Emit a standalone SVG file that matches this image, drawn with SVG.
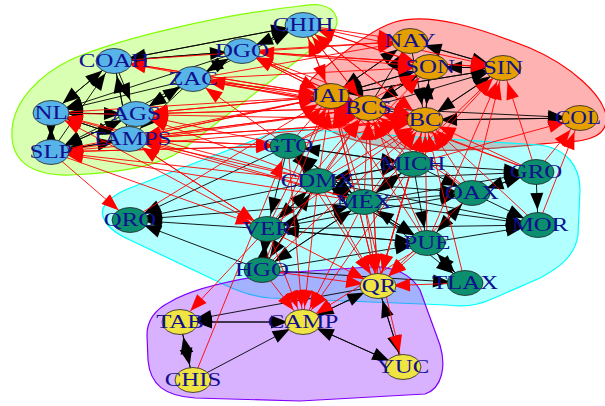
<svg xmlns="http://www.w3.org/2000/svg" width="605" height="406" viewBox="0 0 605 406">
<style>
.hull{stroke-width:1.2}
.eb path{stroke:#000;stroke-width:0.9;fill:none}
.er path{stroke:#f00;stroke-width:0.9;fill:none}
.node ellipse{stroke:#222;stroke-width:0.8}
.bl ellipse{fill:#56B4E9}
.or ellipse{fill:#E69F00}
.gr ellipse{fill:#0B8F6E}
.ye ellipse{fill:#F0E442}
.node text{font-family:"Liberation Serif","Times New Roman",serif;font-size:18px;fill:#10108C;text-anchor:middle}
</style>
<defs>
<marker id="ab" markerUnits="userSpaceOnUse" markerWidth="17" markerHeight="13" refX="32" refY="6.5" orient="auto" overflow="visible"><path d="M0,0 L17,6.5 L0,13 Z" fill="#000"/></marker>
<marker id="ar" markerUnits="userSpaceOnUse" markerWidth="17" markerHeight="13" refX="32" refY="6.5" orient="auto" overflow="visible"><path d="M0,0 L17,6.5 L0,13 Z" fill="#f00"/></marker>
</defs>
<rect width="605" height="406" fill="#fff"/>
<g id="groups">
<path class="hull" fill="#80FF00" fill-opacity="0.3" stroke="#80FF00" d="M320,5 C338,8 342,24 330,35 L182,150 C162,165 120,173 70,175 C30,176 10,160 12,130 C14,100 40,75 70,60 C120,38 220,15 300,6 C308,5 315,4 320,5 Z"/>
<path class="hull" fill="#FF0000" fill-opacity="0.3" stroke="#FF0000" d="M395,22 C430,12 480,28 530,48 C572,66 602,95 606,115 C609,135 590,142 562,142 C520,146 470,152 420,150 C370,148 330,136 310,117 C295,102 303,82 328,65 C352,46 375,28 395,22 Z"/>
<path class="hull" fill="#00FFFF" fill-opacity="0.3" stroke="#00FFFF" d="M103,216 C100,208 108,198 125,190 L270,134 C280,130 295,128 310,130 L540,145 C565,148 580,165 580,190 L578,235 C575,258 555,270 540,278 L492,299 C477,306 462,307 447,305 L270,298 C255,297 240,292 225,285 L130,240 C112,232 105,224 103,216 Z"/>
<path class="hull" fill="#8000FF" fill-opacity="0.3" stroke="#8000FF" d="M170,302 C190,290 230,280 280,273 L370,267 C395,266 412,275 420,290 L440,345 C446,365 443,388 425,394 L300,401 L195,398 C165,396 150,385 148,360 L147,335 C147,318 158,308 170,302 Z"/>
</g>
<g id="connectors">
<g class="eb" marker-end="url(#ab)">
<path d="M114 61L242 51"/><path d="M242 51L114 61"/><path d="M242 51L303 25"/><path d="M303 25L242 51"/><path d="M114 61L303 25"/><path d="M193 79L242 51"/><path d="M242 51L193 79"/><path d="M193 79L303 25"/><path d="M114 61L51 113"/><path d="M51 113L114 61"/><path d="M114 61L136 114"/><path d="M193 79L136 114"/><path d="M136 114L193 79"/><path d="M193 79L51 113"/><path d="M193 79L51 152"/><path d="M193 79L129 139"/><path d="M242 51L136 114"/><path d="M51 113L51 152"/><path d="M51 152L51 113"/><path d="M51 113L136 114"/><path d="M136 114L51 113"/><path d="M51 113L129 139"/><path d="M129 139L51 113"/><path d="M51 152L129 139"/><path d="M129 139L51 152"/><path d="M51 152L136 114"/><path d="M136 114L51 152"/><path d="M136 114L129 139"/><path d="M129 139L136 114"/><path d="M114 61L129 139"/><path d="M242 51L51 113"/><path d="M303 25L114 61"/><path d="M51 152L114 61"/><path d="M129 139L114 61"/>
<path d="M410 41L503 68"/><path d="M503 68L410 41"/><path d="M430 67L503 68"/><path d="M503 68L430 67"/><path d="M331 96L410 41"/><path d="M410 41L331 96"/><path d="M331 96L430 67"/><path d="M430 67L331 96"/><path d="M368 108L430 67"/><path d="M430 67L368 108"/><path d="M368 108L503 68"/><path d="M425 120L503 68"/><path d="M503 68L425 120"/><path d="M425 120L580 118"/><path d="M580 118L425 120"/><path d="M430 67L425 120"/><path d="M425 120L430 67"/><path d="M331 96L425 120"/><path d="M368 108L580 118"/><path d="M410 41L425 120"/><path d="M331 96L503 68"/><path d="M368 108L410 41"/><path d="M503 68L331 96"/>
<path d="M288 146L318 181"/><path d="M318 181L288 146"/><path d="M288 146L413 164"/><path d="M413 164L288 146"/><path d="M288 146L364 202"/><path d="M288 146L130 220"/><path d="M318 181L130 220"/><path d="M364 202L130 220"/><path d="M262 270L130 220"/><path d="M267 229L130 220"/><path d="M318 181L364 202"/><path d="M364 202L318 181"/><path d="M318 181L267 229"/><path d="M267 229L318 181"/><path d="M364 202L267 229"/><path d="M267 229L364 202"/><path d="M318 181L262 270"/><path d="M262 270L318 181"/><path d="M364 202L262 270"/><path d="M262 270L364 202"/><path d="M267 229L262 270"/><path d="M262 270L267 229"/><path d="M318 181L413 164"/><path d="M413 164L318 181"/><path d="M364 202L413 164"/><path d="M413 164L364 202"/><path d="M318 181L427 243"/><path d="M364 202L427 243"/><path d="M427 243L364 202"/><path d="M267 229L427 243"/><path d="M427 243L267 229"/><path d="M413 164L472 193"/><path d="M318 181L472 193"/><path d="M364 202L472 193"/><path d="M472 193L427 243"/><path d="M427 243L472 193"/><path d="M472 193L536 172"/><path d="M536 172L472 193"/><path d="M413 164L536 172"/><path d="M318 181L536 172"/><path d="M364 202L536 172"/><path d="M536 172L538 225"/><path d="M364 202L538 225"/><path d="M318 181L538 225"/><path d="M427 243L538 225"/><path d="M472 193L538 225"/><path d="M427 243L465 283"/><path d="M465 283L427 243"/><path d="M364 202L465 283"/><path d="M262 270L465 283"/><path d="M267 229L472 193"/><path d="M288 146L267 229"/><path d="M413 164L427 243"/><path d="M262 270L427 243"/><path d="M427 243L318 181"/><path d="M364 202L288 146"/><path d="M267 229L538 225"/>
<path d="M180 322L303 322"/><path d="M303 322L180 322"/><path d="M193 380L180 322"/><path d="M180 322L193 380"/><path d="M193 380L303 322"/><path d="M378 286L303 322"/><path d="M303 322L378 286"/><path d="M378 286L403 367"/><path d="M403 367L378 286"/><path d="M303 322L403 367"/><path d="M403 367L303 322"/><path d="M378 286L180 322"/>
</g>
<g class="er" marker-end="url(#ar)">
<path d="M288 146L331 96"/><path d="M318 181L331 96"/><path d="M364 202L331 96"/><path d="M413 164L331 96"/><path d="M267 229L331 96"/><path d="M262 270L331 96"/><path d="M130 220L331 96"/><path d="M136 114L331 96"/><path d="M193 79L331 96"/><path d="M129 139L331 96"/><path d="M51 152L331 96"/><path d="M51 113L331 96"/><path d="M114 61L331 96"/><path d="M242 51L331 96"/><path d="M303 25L331 96"/><path d="M472 193L331 96"/><path d="M427 243L331 96"/><path d="M378 286L331 96"/><path d="M536 172L331 96"/>
<path d="M288 146L368 108"/><path d="M318 181L368 108"/><path d="M364 202L368 108"/><path d="M413 164L368 108"/><path d="M472 193L368 108"/><path d="M427 243L368 108"/><path d="M267 229L368 108"/><path d="M262 270L368 108"/><path d="M136 114L368 108"/><path d="M129 139L368 108"/><path d="M193 79L368 108"/><path d="M242 51L368 108"/><path d="M303 25L368 108"/><path d="M378 286L368 108"/><path d="M536 172L368 108"/><path d="M51 152L368 108"/>
<path d="M288 146L425 120"/><path d="M318 181L425 120"/><path d="M364 202L425 120"/><path d="M413 164L425 120"/><path d="M472 193L425 120"/><path d="M536 172L425 120"/><path d="M427 243L425 120"/><path d="M267 229L425 120"/><path d="M262 270L425 120"/><path d="M193 79L425 120"/><path d="M242 51L425 120"/><path d="M303 25L425 120"/><path d="M51 152L425 120"/><path d="M129 139L425 120"/><path d="M538 225L425 120"/><path d="M378 286L425 120"/><path d="M465 283L425 120"/><path d="M51 113L425 120"/>
<path d="M303 25L430 67"/><path d="M242 51L430 67"/><path d="M193 79L430 67"/><path d="M318 181L430 67"/><path d="M288 146L430 67"/>
<path d="M303 25L410 41"/><path d="M242 51L410 41"/><path d="M193 79L410 41"/><path d="M114 61L410 41"/>
<path d="M303 25L503 68"/><path d="M242 51L503 68"/><path d="M413 164L503 68"/><path d="M472 193L503 68"/><path d="M536 172L503 68"/><path d="M427 243L503 68"/><path d="M364 202L503 68"/>
<path d="M413 164L580 118"/><path d="M536 172L580 118"/><path d="M538 225L580 118"/>
<path d="M331 96L303 25"/><path d="M368 108L303 25"/><path d="M430 67L303 25"/><path d="M425 120L303 25"/>
<path d="M331 96L242 51"/><path d="M368 108L242 51"/><path d="M503 68L242 51"/>
<path d="M331 96L193 79"/><path d="M288 146L193 79"/><path d="M368 108L193 79"/>
<path d="M331 96L136 114"/><path d="M288 146L136 114"/><path d="M318 181L136 114"/><path d="M368 108L136 114"/>
<path d="M288 146L129 139"/><path d="M318 181L129 139"/><path d="M364 202L129 139"/><path d="M267 229L129 139"/><path d="M368 108L129 139"/><path d="M425 120L129 139"/><path d="M331 96L129 139"/>
<path d="M288 146L51 152"/><path d="M318 181L51 152"/><path d="M364 202L51 152"/>
<path d="M318 181L51 113"/><path d="M364 202L51 113"/><path d="M267 229L51 113"/>
<path d="M331 96L114 61"/><path d="M368 108L114 61"/>
<path d="M51 152L130 220"/>
<path d="M51 152L267 229"/><path d="M129 139L267 229"/>
<path d="M288 146L303 322"/><path d="M318 181L303 322"/><path d="M364 202L303 322"/><path d="M267 229L303 322"/><path d="M262 270L303 322"/><path d="M427 243L303 322"/><path d="M413 164L303 322"/>
<path d="M318 181L378 286"/><path d="M364 202L378 286"/><path d="M413 164L378 286"/><path d="M427 243L378 286"/><path d="M267 229L378 286"/><path d="M288 146L378 286"/><path d="M331 96L378 286"/><path d="M368 108L378 286"/><path d="M425 120L378 286"/><path d="M472 193L378 286"/><path d="M262 270L378 286"/><path d="M465 283L378 286"/>
<path d="M267 229L180 322"/>
<path d="M364 202L403 367"/>
<path d="M193 380L288 146"/>
<path d="M129 139L288 146"/><path d="M51 152L288 146"/>
</g>
</g>
<g id="nodes">
<g id="n-CHIH" class="node bl"><ellipse cx="303" cy="25" rx="18" ry="12.5"/><text transform="translate(303,31) scale(1.38,1)">CHIH</text></g>
<g id="n-DGO" class="node bl"><ellipse cx="242" cy="51" rx="18" ry="12.5"/><text transform="translate(242,57) scale(1.38,1)">DGO</text></g>
<g id="n-COAH" class="node bl"><ellipse cx="114" cy="61" rx="18" ry="12.5"/><text transform="translate(114,67) scale(1.38,1)">COAH</text></g>
<g id="n-ZAC" class="node bl"><ellipse cx="193" cy="79" rx="18" ry="12.5"/><text transform="translate(193,85) scale(1.38,1)">ZAC</text></g>
<g id="n-NL" class="node bl"><ellipse cx="51" cy="113" rx="18" ry="12.5"/><text transform="translate(51,119) scale(1.38,1)">NL</text></g>
<g id="n-AGS" class="node bl"><ellipse cx="136" cy="114" rx="18" ry="12.5"/><text transform="translate(136,120) scale(1.38,1)">AGS</text></g>
<g id="n-SLP" class="node bl"><ellipse cx="51" cy="152" rx="18" ry="12.5"/><text transform="translate(51,158) scale(1.38,1)">SLP</text></g>
<g id="n-TAMPS" class="node bl"><ellipse cx="129" cy="139" rx="18" ry="12.5"/><text transform="translate(131,145) scale(1.38,1)">TAMPS</text></g>
<g id="n-NAY" class="node or"><ellipse cx="410" cy="41" rx="18" ry="12.5"/><text transform="translate(410,47) scale(1.38,1)">NAY</text></g>
<g id="n-SON" class="node or"><ellipse cx="430" cy="67" rx="18" ry="12.5"/><text transform="translate(430,73) scale(1.38,1)">SON</text></g>
<g id="n-SIN" class="node or"><ellipse cx="503" cy="68" rx="18" ry="12.5"/><text transform="translate(503,74) scale(1.38,1)">SIN</text></g>
<g id="n-JAL" class="node or"><ellipse cx="331" cy="96" rx="18" ry="12.5"/><text transform="translate(331,102) scale(1.38,1)">JAL</text></g>
<g id="n-BCS" class="node or"><ellipse cx="368" cy="108" rx="18" ry="12.5"/><text transform="translate(368,114) scale(1.38,1)">BCS</text></g>
<g id="n-BC" class="node or"><ellipse cx="425" cy="120" rx="18" ry="12.5"/><text transform="translate(425,126) scale(1.38,1)">BC</text></g>
<g id="n-COL" class="node or"><ellipse cx="580" cy="118" rx="18" ry="12.5"/><text transform="translate(578,124) scale(1.28,1)">COL</text></g>
<g id="n-GTO" class="node gr"><ellipse cx="288" cy="146" rx="18" ry="12.5"/><text transform="translate(288,152) scale(1.38,1)">GTO</text></g>
<g id="n-MEX" class="node gr"><ellipse cx="364" cy="202" rx="18" ry="12.5"/><text transform="translate(364,208) scale(1.38,1)">MÉX</text></g>
<g id="n-CDMX" class="node gr"><ellipse cx="318" cy="181" rx="18" ry="12.5"/><text transform="translate(318,187) scale(1.38,1)">CDMX</text></g>
<g id="n-MICH" class="node gr"><ellipse cx="413" cy="164" rx="18" ry="12.5"/><text transform="translate(413,170) scale(1.38,1)">MICH</text></g>
<g id="n-GRO" class="node gr"><ellipse cx="536" cy="172" rx="18" ry="12.5"/><text transform="translate(536,178) scale(1.38,1)">GRO</text></g>
<g id="n-OAX" class="node gr"><ellipse cx="472" cy="193" rx="18" ry="12.5"/><text transform="translate(472,199) scale(1.38,1)">OAX</text></g>
<g id="n-MOR" class="node gr"><ellipse cx="538" cy="225" rx="18" ry="12.5"/><text transform="translate(540,231) scale(1.38,1)">MOR</text></g>
<g id="n-PUE" class="node gr"><ellipse cx="427" cy="243" rx="18" ry="12.5"/><text transform="translate(427,249) scale(1.38,1)">PUE</text></g>
<g id="n-TLAX" class="node gr"><ellipse cx="465" cy="283" rx="18" ry="12.5"/><text transform="translate(465,289) scale(1.38,1)">TLAX</text></g>
<g id="n-QRO" class="node gr"><ellipse cx="130" cy="220" rx="18" ry="12.5"/><text transform="translate(130,226) scale(1.38,1)">QRO</text></g>
<g id="n-VER" class="node gr"><ellipse cx="267" cy="229" rx="18" ry="12.5"/><text transform="translate(267,235) scale(1.38,1)">VER</text></g>
<g id="n-HGO" class="node gr"><ellipse cx="262" cy="270" rx="18" ry="12.5"/><text transform="translate(262,276) scale(1.38,1)">HGO</text></g>
<g id="n-QR" class="node ye"><ellipse cx="378" cy="286" rx="18" ry="12.5"/><text transform="translate(379,292) scale(1.38,1)">QR</text></g>
<g id="n-TAB" class="node ye"><ellipse cx="180" cy="322" rx="18" ry="12.5"/><text transform="translate(180,328) scale(1.38,1)">TAB</text></g>
<g id="n-CAMP" class="node ye"><ellipse cx="303" cy="322" rx="18" ry="12.5"/><text transform="translate(303,328) scale(1.38,1)">CAMP</text></g>
<g id="n-CHIS" class="node ye"><ellipse cx="193" cy="380" rx="18" ry="12.5"/><text transform="translate(193,386) scale(1.38,1)">CHIS</text></g>
<g id="n-YUC" class="node ye"><ellipse cx="403" cy="367" rx="18" ry="12.5"/><text transform="translate(403,373) scale(1.38,1)">YUC</text></g>
</g>
</svg>
